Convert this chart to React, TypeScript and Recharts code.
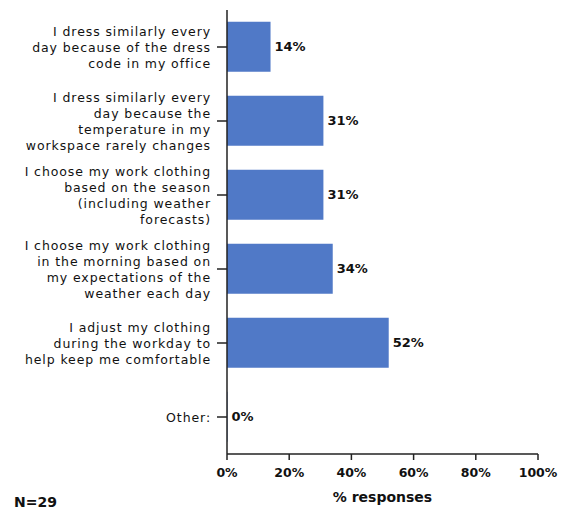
import { BarChart, Bar, XAxis, YAxis, LabelList } from "recharts";

const categories = [
  "I dress similarly every|day because of the dress|code in my office",
  "I dress similarly every|day because the|temperature in my|workspace rarely changes",
  "I choose my work clothing|based on the season|(including weather|forecasts)",
  "I choose my work clothing|in the morning based on|my expectations of the|weather each day",
  "I adjust my clothing|during the workday to|help keep me comfortable",
  "Other:",
];
const values = [14, 31, 31, 34, 52, 0];
const xTicks = [0, 20, 40, 60, 80, 100];

const BAR = "#5079c7";
const INK = "#222";

const data = categories.map((c, i) => ({ label: c, value: values[i] }));

function CatTick({ x, y, payload }: any) {
  const lines = String(payload.value).split("|");
  const lh = 16;
  const start = -((lines.length - 1) * lh) / 2;
  return (
    <text x={x - 4} y={y} textAnchor="end" fontFamily="DejaVu Sans" fontSize={12.5} fill="#111" letterSpacing={0.9}>
      {lines.map((l, i) => (
        <tspan key={i} x={x - 4} y={y + start + i * lh} dy="0.36em">{l}</tspan>
      ))}
    </text>
  );
}

export default function App() {
  return (
    <div style={{ position: "absolute", left: 0, top: 0, width: 562, height: 510, background: "#fff" }}>
      <BarChart width={562} height={510} data={data} layout="vertical"
                margin={{ top: 10, right: 24, bottom: 0, left: 0 }} barCategoryGap="16%">
        <XAxis type="number" domain={[0, 100]} ticks={xTicks} height={56}
               tickFormatter={(v: number) => `${v}%`} tickSize={6} tickMargin={8}
               stroke={INK} strokeWidth={1.5}
               tick={{ fill: "#111", fontFamily: "DejaVu Sans", fontWeight: "bold", fontSize: 12.5 }}
               label={{ value: "% responses", position: "insideBottom", offset: 8,
                        style: { fill: "#111", fontFamily: "DejaVu Sans", fontWeight: "bold", fontSize: 14 } }} />
        <YAxis type="category" dataKey="label" width={227} tickSize={10} stroke={INK} strokeWidth={1.5}
               tick={<CatTick />} interval={0} />
        <Bar dataKey="value" fill={BAR} isAnimationActive={false} minPointSize={0.5}>
          <LabelList dataKey="value" position="right" offset={4}
                     formatter={(v: any) => `${v}%`}
                     style={{ fill: "#111", fontFamily: "DejaVu Sans", fontWeight: "bold", fontSize: 13 }} />
        </Bar>
      </BarChart>
      <div style={{ position: "absolute", left: 14, top: 494, fontFamily: "DejaVu Sans", fontWeight: "bold",
                    fontSize: 14, color: "#111" }}>N=29</div>
    </div>
  );
}
